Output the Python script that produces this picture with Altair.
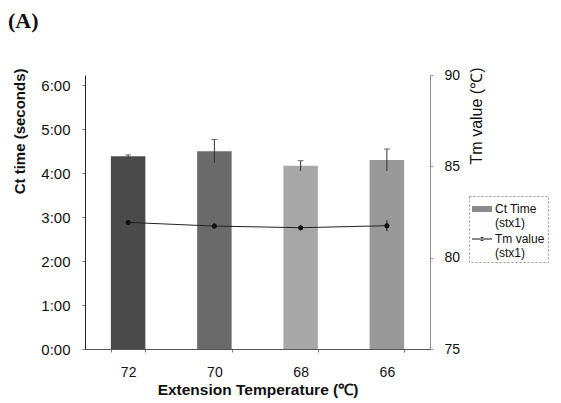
import altair as alt
import pandas as pd

temps = ["72", "70", "68", "66"]
ct_seconds = [263, 270, 250, 258]
ct_err = [2, 16, 7, 15]
tm_values = [81.93, 81.73, 81.64, 81.75]
tm_err = [0.1, 0.15, 0.15, 0.3]
bar_colors = ["#4a4a4a", "#6a6a6a", "#a8a8a8", "#999999"]
series_names = ["Ct Time|(stx1)", "Tm value|(stx1)"]

df = pd.DataFrame({
    "temp": temps,
    "ct": ct_seconds,
    "ct_lo": [c - e for c, e in zip(ct_seconds, ct_err)],
    "ct_hi": [c + e for c, e in zip(ct_seconds, ct_err)],
    "tm": tm_values,
    "tm_lo": [t - e for t, e in zip(tm_values, tm_err)],
    "tm_hi": [t + e for t, e in zip(tm_values, tm_err)],
    "series": [series_names[1]] * 4,
})

FONT = "Liberation Sans"

x = alt.X("temp:N", sort=temps,
          scale=alt.Scale(paddingInner=0.6, paddingOuter=0.3),
          axis=alt.Axis(title="Extension Temperature (℃)", labelAngle=0,
                        labelFontSize=14, titleFontSize=15.5, titleFontWeight="bold",
                        labelPadding=13, titlePadding=3, tickBand="extent",
                        tickSize=3, domainColor="#555", tickColor="#777",
                        labelColor="#111", titleColor="#111"))

y_ct = alt.Y("ct:Q", scale=alt.Scale(domain=[0, 374], nice=False),
             axis=alt.Axis(title="Ct time (seconds)", values=[0, 60, 120, 180, 240, 300, 360],
                           labelExpr="floor(datum.value/60) + ':' + (datum.value%60 < 10 ? '0' : '') + (datum.value%60)",
                           labelFontSize=15, titleFontSize=15, titleFontWeight="bold",
                           labelPadding=12, titlePadding=13, tickSize=3, grid=False,
                           titleAnchor="end", titleAlign="right", titleY=-7,
                           domainColor="#222", tickColor="#777", labelColor="#111",
                           titleColor="#111"))

bars = alt.Chart(df).mark_bar().encode(
    x=x,
    y=y_ct,
    fill=alt.Fill("temp:N", scale=alt.Scale(domain=temps, range=bar_colors), legend=None),
)
ct_err_rule = alt.Chart(df).mark_rule(color="#333", strokeWidth=1).encode(
    x=x, y=alt.Y("ct_lo:Q"), y2="ct_hi:Q")
ct_err_cap = alt.Chart(df).mark_tick(color="#333", size=6, thickness=1, orient="horizontal").encode(
    x=x, y=alt.Y("ct_hi:Q"))

left = alt.layer(bars, ct_err_rule, ct_err_cap)

y_tm = alt.Y("tm:Q", scale=alt.Scale(domain=[75, 90], nice=False),
             axis=alt.Axis(title="Tm value (℃)", orient="right", values=[75, 80, 85, 90],
                           labelFontSize=14, titleFontSize=16, titleFontWeight="normal",
                           labelPadding=11, titlePadding=9, tickSize=3, grid=False,
                           titleAngle=270, titleAnchor="end", titleAlign="right",
                           titleBaseline="top", titleY=-8,
                           domainColor="#888", tickColor="#999", labelColor="#111",
                           titleColor="#111"))

line = alt.Chart(df).mark_line(color="#222", strokeWidth=1).encode(x=x, y=y_tm)
pts = alt.Chart(df).mark_point(filled=True, color="#111", size=25, opacity=1).encode(x=x, y=y_tm)
tm_err_rule = alt.Chart(df).mark_rule(color="#111", strokeWidth=1).encode(
    x=x, y=alt.Y("tm_lo:Q"), y2="tm_hi:Q")

shared_legend = alt.Legend(title=None, orient="none", legendX=384, legendY=121,
                           labelExpr="split(datum.label, '|')",
                           labelFont=FONT, labelFontSize=12, labelColor="#111",
                           labelFontWeight="normal",
                           symbolOpacity=1, symbolSize=400, rowPadding=0,
                           symbolStrokeWidth=0,
                           strokeColor="#999", padding=3, labelOffset=3)

legend_layer = alt.Chart(df).mark_point(filled=True, opacity=0).encode(
    x=x, y=y_tm,
    color=alt.Color("series:N",
                    scale=alt.Scale(domain=series_names, range=["#8a8a8a", "#111111"]),
                    legend=shared_legend),
    shape=alt.Shape("series:N",
                    scale=alt.Scale(domain=series_names,
                                    range=["M-1,-0.3H1V0.3H-1Z",
                                           "M-1,-0.05H1V0.05H-1Z M-0.2,0a0.2,0.2 0 1,0 0.4,0a0.2,0.2 0 1,0 -0.4,0"]),
                    legend=shared_legend),
)

right = alt.layer(line, tm_err_rule, pts, legend_layer)

chart = alt.layer(left, right).resolve_scale(y="independent").properties(
    width=345, height=274,
    autosize=alt.AutoSizeParams(type="none"),
    padding={"left": 77, "top": 67, "right": 123, "bottom": 54},
    title=alt.TitleParams("(A)", anchor="start", frame="group", dx=-77, offset=34,
                          font="Liberation Serif", fontSize=22, fontWeight="bold",
                          color="#111"),
).configure_axis(
    labelFont=FONT, titleFont=FONT
).configure_legend(
    strokeDash=[2, 2]
).configure_view(stroke=None)

chart.save("out.html", embed_options={"renderer": "svg", "actions": False})
